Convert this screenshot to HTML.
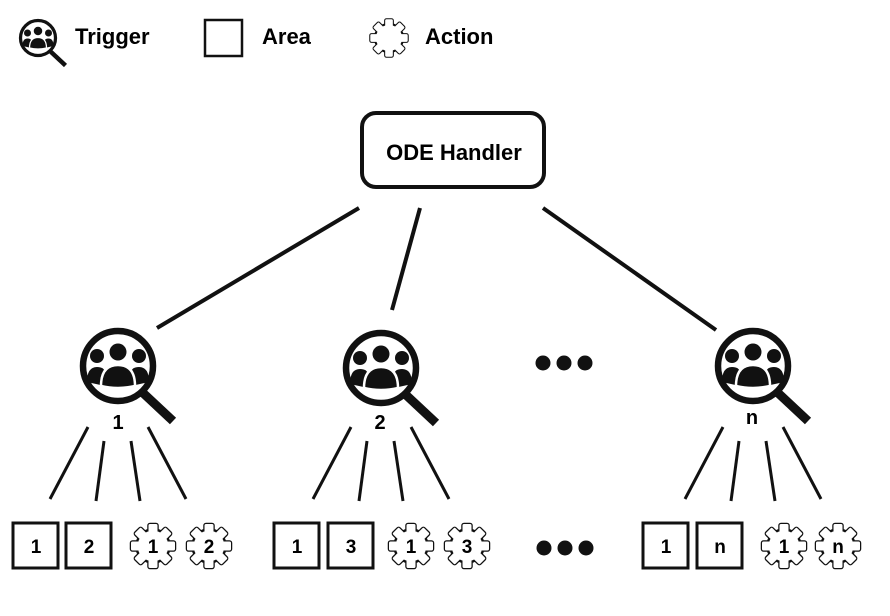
<!DOCTYPE html>
<html><head><style>
html,body{margin:0;padding:0;background:#fff;}
svg{display:block;font-family:"Liberation Sans",sans-serif;font-weight:bold;}
</style></head><body>
<svg width="890" height="616" viewBox="0 0 890 616" xmlns="http://www.w3.org/2000/svg">
<defs>
<g id="trig">
  <line x1="24" y1="26" x2="55" y2="55" stroke="#111" stroke-width="9"/>
  <circle cx="0" cy="0" r="35" fill="#fff" stroke="#111" stroke-width="6.5"/>
  <circle cx="-21" cy="-10" r="7" fill="#111"/>
  <circle cx="21" cy="-10" r="7" fill="#111"/>
  <circle cx="0" cy="-14" r="8.5" fill="#111"/>
  <path d="M-31 16 Q-31 1 -21 1 Q-14 1 -13 6 L-13 20 Z" fill="#111"/>
  <path d="M31 16 Q31 1 21 1 Q14 1 13 6 L13 20 Z" fill="#111"/>
  <path d="M-17 20 Q-17 -1 0 -1 Q17 -1 17 20 Q0 24 -17 20 Z" fill="#111" stroke="#fff" stroke-width="2.5"/>
</g>
<g id="tooth"><rect x="-4.5" y="-22" width="9" height="12" rx="1.5"/></g>
<g id="gear">
  <g fill="#fff" stroke="#111" stroke-width="2.5" stroke-linejoin="round">
    <use href="#tooth" transform="rotate(0)"/><use href="#tooth" transform="rotate(45)"/>
    <use href="#tooth" transform="rotate(90)"/><use href="#tooth" transform="rotate(135)"/>
    <use href="#tooth" transform="rotate(180)"/><use href="#tooth" transform="rotate(225)"/>
    <use href="#tooth" transform="rotate(270)"/><use href="#tooth" transform="rotate(315)"/>
    <circle r="16.5"/>
  </g>
  <g fill="#fff" stroke="none">
    <use href="#tooth" transform="rotate(0)"/><use href="#tooth" transform="rotate(45)"/>
    <use href="#tooth" transform="rotate(90)"/><use href="#tooth" transform="rotate(135)"/>
    <use href="#tooth" transform="rotate(180)"/><use href="#tooth" transform="rotate(225)"/>
    <use href="#tooth" transform="rotate(270)"/><use href="#tooth" transform="rotate(315)"/>
    <circle r="15.2"/>
  </g>
</g>
</defs>

<!-- legend -->
<use href="#trig" transform="translate(38,38) scale(0.5)"/>
<text x="75" y="44" font-size="22">Trigger</text>
<rect x="205" y="20" width="37" height="36" fill="#fff" stroke="#111" stroke-width="2.5"/>
<text x="262" y="44" font-size="22">Area</text>
<use href="#gear" transform="translate(389,38) scale(0.85)"/>
<text x="425" y="44" font-size="22">Action</text>

<!-- ODE handler -->
<rect x="362" y="113" width="182" height="74" rx="14" fill="#fff" stroke="#111" stroke-width="4"/>
<text x="454" y="160" font-size="22" text-anchor="middle">ODE Handler</text>

<g stroke="#111" stroke-width="4">
<line x1="359" y1="208" x2="157" y2="328"/>
<line x1="420" y1="208" x2="392" y2="310"/>
<line x1="543" y1="208" x2="716" y2="330"/>
</g>

<!-- triggers -->
<use href="#trig" transform="translate(118,366)"/>
<use href="#trig" transform="translate(381,368)"/>
<use href="#trig" transform="translate(753,366)"/>
<text x="118" y="429" font-size="20" text-anchor="middle">1</text>
<text x="380" y="429" font-size="20" text-anchor="middle">2</text>
<text x="752" y="424" font-size="20" text-anchor="middle">n</text>

<g fill="#111">
<circle cx="543" cy="363" r="7.5"/><circle cx="564" cy="363" r="7.5"/><circle cx="585" cy="363" r="7.5"/>
<circle cx="544" cy="548" r="7.5"/><circle cx="565" cy="548" r="7.5"/><circle cx="586" cy="548" r="7.5"/>
</g>

<!-- child lines -->
<g stroke="#111" stroke-width="3">
<line x1="88" y1="427" x2="50" y2="499"/><line x1="104" y1="441" x2="96" y2="501"/>
<line x1="131" y1="441" x2="140" y2="501"/><line x1="148" y1="427" x2="186" y2="499"/>
<line x1="351" y1="427" x2="313" y2="499"/><line x1="367" y1="441" x2="359" y2="501"/>
<line x1="394" y1="441" x2="403" y2="501"/><line x1="411" y1="427" x2="449" y2="499"/>
<line x1="723" y1="427" x2="685" y2="499"/><line x1="739" y1="441" x2="731" y2="501"/>
<line x1="766" y1="441" x2="775" y2="501"/><line x1="783" y1="427" x2="821" y2="499"/>
</g>

<!-- areas -->
<g fill="#fff" stroke="#111" stroke-width="3">
<rect x="13" y="523" width="45" height="45"/><rect x="66" y="523" width="45" height="45"/>
<rect x="274" y="523" width="45" height="45"/><rect x="328" y="523" width="45" height="45"/>
<rect x="643" y="523" width="45" height="45"/><rect x="697" y="523" width="45" height="45"/>
</g>
<use href="#gear" transform="translate(153,546)"/><use href="#gear" transform="translate(209,546)"/>
<use href="#gear" transform="translate(411,546)"/><use href="#gear" transform="translate(467,546)"/>
<use href="#gear" transform="translate(784,546)"/><use href="#gear" transform="translate(838,546)"/>

<g font-size="19" text-anchor="middle">
<text x="36" y="553">1</text><text x="89" y="553">2</text>
<text x="153" y="553">1</text><text x="209" y="553">2</text>
<text x="297" y="553">1</text><text x="351" y="553">3</text>
<text x="411" y="553">1</text><text x="467" y="553">3</text>
<text x="666" y="553">1</text><text x="720" y="553">n</text>
<text x="784" y="553">1</text><text x="838" y="553">n</text>
</g>
</svg>
</body></html>
